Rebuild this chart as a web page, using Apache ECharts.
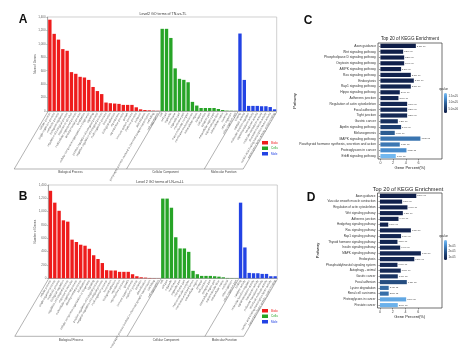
<!DOCTYPE html>
<html><head><meta charset="utf-8">
<script src="https://cdn.jsdelivr.net/npm/echarts@6/dist/echarts.min.js"></script>
<style>html,body{margin:0;padding:0;background:#fff}#c{width:474px;height:348px}</style>
</head><body><div id="c"></div>
<script>
// ---------- GO level-2 terms ----------
const bpTerms = ['cellular process','single-organism process','metabolic process','biological regulation','regulation of biological process','response to stimulus','multicellular organismal process','developmental process','localization','cellular component organization or biogenesis','signaling','positive regulation of biological process','negative regulation of biological process','multi-organism process','locomotion','biological adhesion','reproduction','reproductive process','growth','immune system process','rhythmic process','behavior','detoxification','presynaptic process involved in chemical synaptic transmission','cell killing','cell aggregation'];
const ccTerms = ['cell','cell part','organelle','membrane','organelle part','membrane part','macromolecular complex','membrane-enclosed lumen','extracellular region','synapse','cell junction','synapse part','extracellular region part','supramolecular fiber','extracellular matrix','nucleoid','other organism','other organism part'];
const mfTerms = ['binding','catalytic activity','molecular function regulator','signal transducer activity','transporter activity','molecular transducer activity','structural molecule activity','nucleic acid binding transcription factor activity','transcription factor activity, protein binding'];
const groupNames = ['Biological Process','Cellular Component','Molecular Function'];

// Panel A (TN-vs-TL)
const bpA = [1360,1149,1063,922,897,579,554,509,499,463,358,297,252,126,116,111,106,91,91,91,55,25,15,10,5,3];
const ccA = [1224,1224,1088,635,479,464,428,136,81,45,45,45,45,30,15,5,3,2];
const mfA = [1154,463,76,76,76,71,71,59,25];
// Panel B (LN-vs-LL)
const bpB = [1313,1135,1013,870,850,580,545,504,489,443,346,290,229,122,117,117,97,97,97,61,31,15,10,5,3,2];
const ccB = [1196,1196,1059,616,448,448,397,112,61,36,36,36,31,25,15,5,3,2];
const mfB = [1135,463,81,76,76,66,66,31,31];
const goYMax = 1400, goYStep = 200;

// ---------- KEGG top 20 ----------
const keggPathwaysC = ['Axon guidance','Wnt signaling pathway','Phospholipase D signaling pathway','Oxytocin signaling pathway','AMPK signaling pathway','Ras signaling pathway','Endocytosis','Rap1 signaling pathway','Hippo signaling pathway','Adherens junction','Regulation of actin cytoskeleton','Focal adhesion','Tight junction','Gastric cancer','Apelin signaling pathway','Melanogenesis','MAPK signaling pathway','Parathyroid hormone synthesis, secretion and action','Proteoglycans in cancer','ErbB signaling pathway'];
const keggPercentC = [5.58,3.58,3.74,3.74,3.26,4.79,5.26,4.79,3.05,2.84,4.21,4.21,4.21,2.74,3.26,2.26,6.3,3.05,4.1,2.42];
const keggQvalueC = [2.1e-6,2.2e-6,2.3e-6,2.4e-6,2.5e-6,2.6e-6,2.7e-6,2.8e-6,2.9e-6,3.0e-6,3.1e-6,3.2e-6,3.3e-6,4.3e-6,5.9e-6,9.0e-6,11.3e-6,11.5e-6,13.2e-6,17.0e-6];
const qRangeC = [2.0e-6, 17.5e-6];
const qTicksC = [5e-6, 1e-5, 1.5e-5];

const keggPathwaysD = ['Axon guidance','Vascular smooth muscle contraction','Regulation of actin cytoskeleton','Wnt signaling pathway','Adherens junction','Hedgehog signaling pathway','Ras signaling pathway','Rap1 signaling pathway','Thyroid hormone signaling pathway','Insulin signaling pathway','MAPK signaling pathway','Endocytosis','Phosphatidylinositol signaling system','Autophagy - animal','Gastric cancer','Focal adhesion','Lysine degradation','Renal cell carcinoma','Proteoglycans in cancer','Prostate cancer'];
const keggPercentD = [5.68,3.47,4.3,3.58,2.9,1.3,4.84,3.3,2.74,3.16,6.4,5.37,2.74,3.26,2.79,4.2,1.37,1.37,4.1,2.79];
const keggQvalueD = [5.6e-6,5.8e-6,6.0e-6,6.2e-6,6.4e-6,6.6e-6,6.8e-6,7.0e-6,7.2e-6,7.4e-6,7.6e-6,7.8e-6,8.0e-6,8.5e-6,11e-6,17.5e-6,24.5e-6,25e-6,36e-6,38e-6];
const qRangeD = [5.0e-6, 40.5e-6];
const qTicksD = [1e-5, 2e-5, 3e-5];
const percentTicks = [0,2,4,6];

// ---------- build ----------
const FONT = 'Liberation Sans';
const goColors = ['#ee1c1c','#27a427','#2343e4'];
const qGradient = ['#0f1d47','#1d3d6e','#30639a','#4a90d2','#78bef5'];
const allTerms = bpTerms.concat(ccTerms, mfTerms);
const dash = n => Array(n).fill('-');
function goSeries(bp, cc, mf, axis) {
  const parts = [
    bp.concat(dash(cc.length + mf.length)),
    dash(bp.length).concat(cc, dash(mf.length)),
    dash(bp.length + cc.length).concat(mf)
  ];
  return parts.map((d, i) => ({
    type: 'bar', name: groupNames[i], xAxisIndex: axis, yAxisIndex: axis,
    stack: 'go' + axis, data: d, barCategoryGap: '22%',
    itemStyle: { color: goColors[i] }, silent: true
  }));
}
function expFmt(v, digits) {
  return v.toExponential(digits).replace(/e([+-])(\d)$/, 'e$10$2');
}
function goXAxis(grid) {
  return { type: 'category', gridIndex: grid, data: allTerms,
    axisLine: { lineStyle: { color: '#888', width: 0.6 } },
    axisTick: { show: false },
    axisLabel: { interval: 0, rotate: 60, fontSize: 2.8, color: '#555', margin: 2, fontFamily: FONT, hideOverlap: false } };
}
function goYAxis(grid, name) {
  return { type: 'value', gridIndex: grid, min: 0, max: goYMax, interval: goYStep,
    name: name, nameLocation: 'middle', nameGap: 11.5, nameRotate: 90, nameMoveOverlap: false,
    nameTextStyle: { fontSize: 3, color: '#555', fontFamily: FONT },
    axisLine: { show: true, lineStyle: { color: '#888', width: 0.6 } },
    axisTick: { show: true, length: 1.5, lineStyle: { color: '#888', width: 0.5 } },
    splitLine: { show: false },
    axisLabel: { fontSize: 3, color: '#666', margin: 2, fontFamily: FONT } };
}
function keggXAxis(grid) {
  return { type: 'value', gridIndex: grid, min: -0.38, max: 9.7,
    name: 'Gene Percent(%)', nameLocation: 'middle', nameGap: 7, nameMoveOverlap: false,
    nameTextStyle: { fontSize: 4, color: '#222', fontFamily: FONT },
    axisLine: { show: false }, splitLine: { show: false },
    axisTick: { show: true, length: 1.5, customValues: percentTicks, lineStyle: { color: '#333', width: 0.5 } },
    axisLabel: { customValues: percentTicks, fontSize: 3.6, color: '#444', margin: 2, fontFamily: FONT } };
}
function keggYAxis(grid, cats, gap, fs) {
  return { type: 'category', gridIndex: grid, data: cats, inverse: true,
    name: 'Pathway', nameLocation: 'middle', nameGap: gap, nameRotate: 90, nameMoveOverlap: false,
    nameTextStyle: { fontSize: 4, color: '#222', fontFamily: FONT },
    axisLine: { show: false },
    axisTick: { show: true, length: 1.5, alignWithLabel: true, lineStyle: { color: '#333', width: 0.5 } },
    axisLabel: { interval: 0, fontSize: fs, color: '#333', margin: 2, fontFamily: FONT, hideOverlap: false } };
}
function keggSeries(pct, q, axis) {
  return { type: 'bar', xAxisIndex: axis, yAxisIndex: axis, barCategoryGap: '28%',
    encode: { x: 0, y: 1 },
    data: pct.map((v, i) => [v, i, q[i]]),
    label: { show: true, position: 'right', distance: 1, fontSize: 2.2, color: '#333', fontFamily: FONT,
      formatter: p => expFmt(p.value[2], 2) },
    silent: true };
}
function cbAxes(grid, range, ticks, digits) {
  return [
    { type: 'value', gridIndex: grid, show: false, min: 0, max: 1 },
    { type: 'value', gridIndex: grid, position: 'right', min: range[0], max: range[1],
      name: 'qvalue', nameLocation: 'end', nameGap: 2, nameMoveOverlap: false,
      nameTextStyle: { fontSize: 3, color: '#333', align: 'right', padding: [0, -4, 0, 0], fontFamily: FONT },
      axisLine: { show: false }, splitLine: { show: false },
      axisTick: { show: false },
      axisLabel: { customValues: ticks, fontSize: 2.8, color: '#444', margin: 1.5, fontFamily: FONT,
        formatter: v => expFmt(v, digits) } }
  ];
}
const cbC = cbAxes(4, qRangeC, qTicksC, 1);
const cbD = cbAxes(5, qRangeD, qTicksD, 0);

const option = {
  animation: false,
  backgroundColor: '#fff',
  textStyle: { fontFamily: FONT },
  grid: [
    { left: 47.7, top: 17, width: 229, height: 94, show: true, borderColor: '#bbb', borderWidth: 0.7, outerBoundsMode: 'none', containLabel: false },
    { left: 48.3, top: 185, width: 229, height: 93.3, show: true, borderColor: '#bbb', borderWidth: 0.7, outerBoundsMode: 'none', containLabel: false },
    { left: 378, top: 43, width: 64, height: 116, show: true, borderColor: '#333', borderWidth: 0.7, outerBoundsMode: 'none', containLabel: false },
    { left: 377.5, top: 193, width: 64.5, height: 115, show: true, borderColor: '#333', borderWidth: 0.7, outerBoundsMode: 'none', containLabel: false },
    { left: 444, top: 93, width: 3, height: 20, outerBoundsMode: 'none', containLabel: false },
    { left: 444, top: 240, width: 3, height: 20, outerBoundsMode: 'none', containLabel: false }
  ],
  xAxis: [goXAxis(0), goXAxis(1), keggXAxis(2), keggXAxis(3), cbC[0], cbD[0]],
  yAxis: [goYAxis(0, 'Num of Genes'), goYAxis(1, 'Number of Genes'),
          keggYAxis(2, keggPathwaysC, 81, 3.3), keggYAxis(3, keggPathwaysD, 58, 3.0), cbC[1], cbD[1]],
  legend: [
    { left: 262, top: 141, orient: 'vertical', itemWidth: 6, itemHeight: 3.5, itemGap: 2, icon: 'rect', padding: 0,
      selectedMode: false,
      textStyle: { fontSize: 3, width: 8, overflow: 'truncate', ellipsis: '', padding: [0,0,0,-2] },
      data: groupNames.map((n, i) => ({ name: n, textStyle: { color: goColors[i] } })) },
    { left: 262, top: 309, orient: 'vertical', itemWidth: 6, itemHeight: 3.5, itemGap: 2, icon: 'rect', padding: 0,
      selectedMode: false,
      textStyle: { fontSize: 3, width: 8, overflow: 'truncate', ellipsis: '', padding: [0,0,0,-2] },
      data: groupNames.map((n, i) => ({ name: n, textStyle: { color: goColors[i] } })) }
  ],
  visualMap: [
    { type: 'continuous', seriesIndex: 6, dimension: 2, min: qRangeC[0], max: qRangeC[1],
      inRange: { color: qGradient }, left: 444, top: 93, itemWidth: 3, itemHeight: 20,
      padding: 0, calculable: false, showLabel: false, text: null, hoverLink: false },
    { type: 'continuous', seriesIndex: 7, dimension: 2, min: qRangeD[0], max: qRangeD[1],
      inRange: { color: qGradient }, left: 444, top: 240, itemWidth: 3, itemHeight: 20,
      padding: 0, calculable: false, showLabel: false, text: null, hoverLink: false }
  ],
  series: [].concat(
    goSeries(bpA, ccA, mfA, 0),
    goSeries(bpB, ccB, mfB, 1),
    [keggSeries(keggPercentC, keggQvalueC, 2), keggSeries(keggPercentD, keggQvalueD, 3)]
  )
};

const chart = echarts.init(document.getElementById('c'), null, { renderer: 'canvas' });
chart.setOption(option);

function txt(text, x, y, size, opts) {
  return Object.assign({ type: 'text', silent: true,
    style: Object.assign({ text: text, x: x, y: y, fontSize: size, fill: '#111', fontFamily: FONT,
      textAlign: 'center', textVerticalAlign: 'middle' }, (opts && opts.style) || {}) });
}
const graphics = [
  txt('A', 23, 20, 12, { style: { fontWeight: 'bold' } }),
  txt('B', 23, 197, 12, { style: { fontWeight: 'bold' } }),
  txt('C', 308, 21, 12, { style: { fontWeight: 'bold' } }),
  txt('D', 311, 198, 12, { style: { fontWeight: 'bold' } }),
  txt('Level2 GO terms of TN-vs-TL', 163, 14, 3.6, { style: { fill: '#333' } }),
  txt('Level 2 GO terms of LN-vs-LL', 160, 182, 3.6, { style: { fill: '#333' } }),
  txt('Top 20 of KEGG Enrichment', 410, 39, 4.6, { style: { fill: '#222' } }),
  txt('Top 20 of KEGG Enrichment', 408, 189, 5.6, { style: { fill: '#222' } })
];
function decor(axisIdx, baseY, dy) {
  const c0 = chart.convertToPixel({ xAxisIndex: axisIdx }, 0);
  const c1 = chart.convertToPixel({ xAxisIndex: axisIdx }, 1);
  const step = c1 - c0;
  const bounds = [0, bpTerms.length, bpTerms.length + ccTerms.length, allTerms.length]
    .map(b => c0 - step / 2 + b * step);
  const dx = dy / Math.tan(60 * Math.PI / 180);
  const y1 = baseY + dy;
  bounds.forEach(x => graphics.push({ type: 'line', silent: true,
    shape: { x1: x, y1: baseY + 1, x2: x - dx, y2: y1 }, style: { stroke: '#666', lineWidth: 0.5 } }));
  graphics.push({ type: 'line', silent: true,
    shape: { x1: bounds[0] - dx, y1: y1, x2: bounds[3] - dx, y2: y1 }, style: { stroke: '#666', lineWidth: 0.5 } });
  for (let i = 0; i < 3; i++) {
    graphics.push(txt(groupNames[i], (bounds[i] + bounds[i + 1]) / 2 - dx, y1 + 3.5, 3, { style: { fill: '#444' } }));
  }
}
decor(0, 111, 58);
decor(1, 278.3, 58);
chart.setOption({ graphic: graphics });
</script>
</body></html>
